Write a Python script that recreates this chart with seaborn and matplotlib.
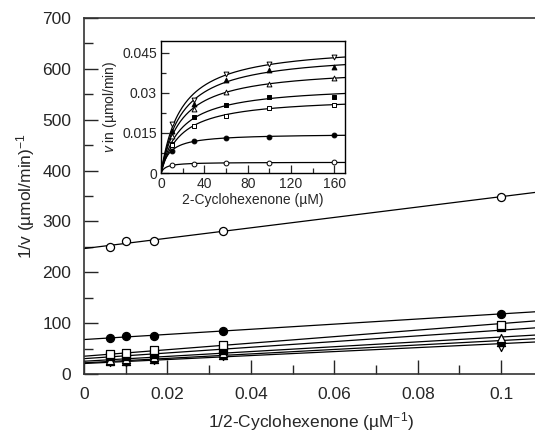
import seaborn as sns
import matplotlib.pyplot as plt
import pandas as pd
import numpy as np

# --- data ---
substrate_uM = [10, 30, 60, 100, 160]

series_names = ['open_tri_down', 'filled_tri_up', 'open_tri_up',
                'filled_square', 'open_square', 'filled_circle', 'open_circle']
v_open_tri_down = [0.0185, 0.0274, 0.0369, 0.0409, 0.0434]
v_filled_tri_up = [0.0158, 0.0260, 0.0346, 0.0386, 0.0396]
v_open_tri_up = [0.0140, 0.0240, 0.0303, 0.0333, 0.0356]
v_filled_square = [0.0108, 0.0209, 0.0256, 0.0285, 0.0286]
v_open_square = [0.0104, 0.0175, 0.0214, 0.0245, 0.0256]
v_filled_circle = [0.0084, 0.0119, 0.0132, 0.0134, 0.01425]
v_open_circle = [0.00287, 0.00356, 0.00382, 0.00382, 0.0040]

rates = [v_open_tri_down, v_filled_tri_up, v_open_tri_up, v_filled_square,
         v_open_square, v_filled_circle, v_open_circle]
markers = ['v', '^', '^', 's', 's', 'o', 'o']
fills = ['white', 'black', 'white', 'black', 'white', 'black', 'white']

main_xticks = [0, 0.02, 0.04, 0.06, 0.08, 0.1]
main_xticklabels = ['0', '0.02', '0.04', '0.06', '0.08', '0.1']
main_yticks = [0, 100, 200, 300, 400, 500, 600, 700]
inset_xticks = [0, 40, 80, 120, 160]
inset_yticks = [0, 0.015, 0.03, 0.045]
inset_yticklabels = ['0', '0.015', '0.03', '0.045']

rows = []
for name, v in zip(series_names, rates):
    for s, r in zip(substrate_uM, v):
        rows.append({'series': name, 'S': s, 'v': r, 'invS': 1.0 / s, 'invv': 1.0 / r})
df = pd.DataFrame(rows)


def mm_fit(s, v):
    # Michaelis-Menten least squares: scan Km, Vmax solved linearly
    s = np.asarray(s, float)
    v = np.asarray(v, float)
    best = None
    for km in np.linspace(0.5, 150, 3000):
        f = s / (km + s)
        vmax = f.dot(v) / f.dot(f)
        sse = ((vmax * f - v) ** 2).sum()
        if best is None or sse < best[0]:
            best = (sse, vmax, km)
    return best[1], best[2]


# --- figure ---
sns.set_style('ticks')
plt.rcParams['font.family'] = ['Liberation Sans', 'DejaVu Sans']
plt.rcParams['mathtext.fontset'] = 'custom'
plt.rcParams['mathtext.rm'] = 'Liberation Sans'
plt.rcParams['mathtext.it'] = 'Liberation Sans:italic'

fig = plt.figure(figsize=(5.35, 4.37), dpi=100)
ax = fig.add_axes([0.157, 0.144, 0.850, 0.815])
ins = fig.add_axes([0.301, 0.604, 0.344, 0.303])

xmax_main = 0.109
x_line = np.linspace(0, xmax_main, 50)
s_curve = np.linspace(0, 170, 200)

for name, mk, fc in zip(series_names, markers, fills):
    sub = df[df['series'] == name]
    vmax, km = mm_fit(sub['S'], sub['v'])
    # Lineweaver-Burk line
    ax.plot(x_line, 1 / vmax + km / vmax * x_line, color='black', lw=0.9, zorder=2)
    sns.scatterplot(data=sub, x='invS', y='invv', marker=mk, color=fc,
                    edgecolor='black', linewidth=0.9, s=34, ax=ax, zorder=3, legend=False)
    # inset Michaelis-Menten curve
    ins.plot(s_curve, vmax * s_curve / (km + s_curve), color='black', lw=0.9, zorder=2)
    sns.scatterplot(data=sub, x='S', y='v', marker=mk, color=fc,
                    edgecolor='black', linewidth=0.7, s=12, ax=ins, zorder=3, legend=False)

# main axes styling
ax.set_xlim(0, xmax_main)
ax.set_ylim(0, 700)
ax.set_xticks(main_xticks)
ax.set_xticklabels(main_xticklabels)
ax.set_yticks(main_yticks)
ax.set_xticks(np.arange(0.01, 0.11, 0.02), minor=True)
ax.set_yticks(np.arange(50, 700, 100), minor=True)
ax.tick_params(which='major', direction='in', length=10, width=1, labelsize=12.5, pad=9)
ax.tick_params(which='minor', direction='in', length=6.5, width=1)
ax.spines['right'].set_visible(False)
for sp in ['left', 'bottom', 'top']:
    ax.spines[sp].set_linewidth(1.2)
    ax.spines[sp].set_color('#333333')
ax.set_xlabel(r'1/2-Cyclohexenone (µM$^{-1}$)', fontsize=12.5, labelpad=6)
ax.set_ylabel(r'1/v (µmol/min)$^{-1}$', fontsize=12.5, labelpad=4)

# inset styling
ins.set_xlim(0, 170)
ins.set_ylim(0, 0.0495)
ins.set_xticks(inset_xticks)
ins.set_yticks(inset_yticks)
ins.set_yticklabels(inset_yticklabels)
ins.set_xticks([20, 60, 100, 140], minor=True)
ins.set_yticks([0.0075, 0.0225, 0.0375], minor=True)
ins.tick_params(which='major', direction='in', length=6, width=0.9, labelsize=10, pad=3)
ins.tick_params(which='minor', direction='in', length=3.5, width=0.9)
for sp in ins.spines.values():
    sp.set_linewidth(1.0)
    sp.set_color('black')
ins.set_xlabel('2-Cyclohexenone (µM)', fontsize=10, labelpad=1)
ins.set_ylabel(r'$v$ in (µmol/min)', fontsize=10, labelpad=2)

plt.savefig('out.png', dpi=100)
